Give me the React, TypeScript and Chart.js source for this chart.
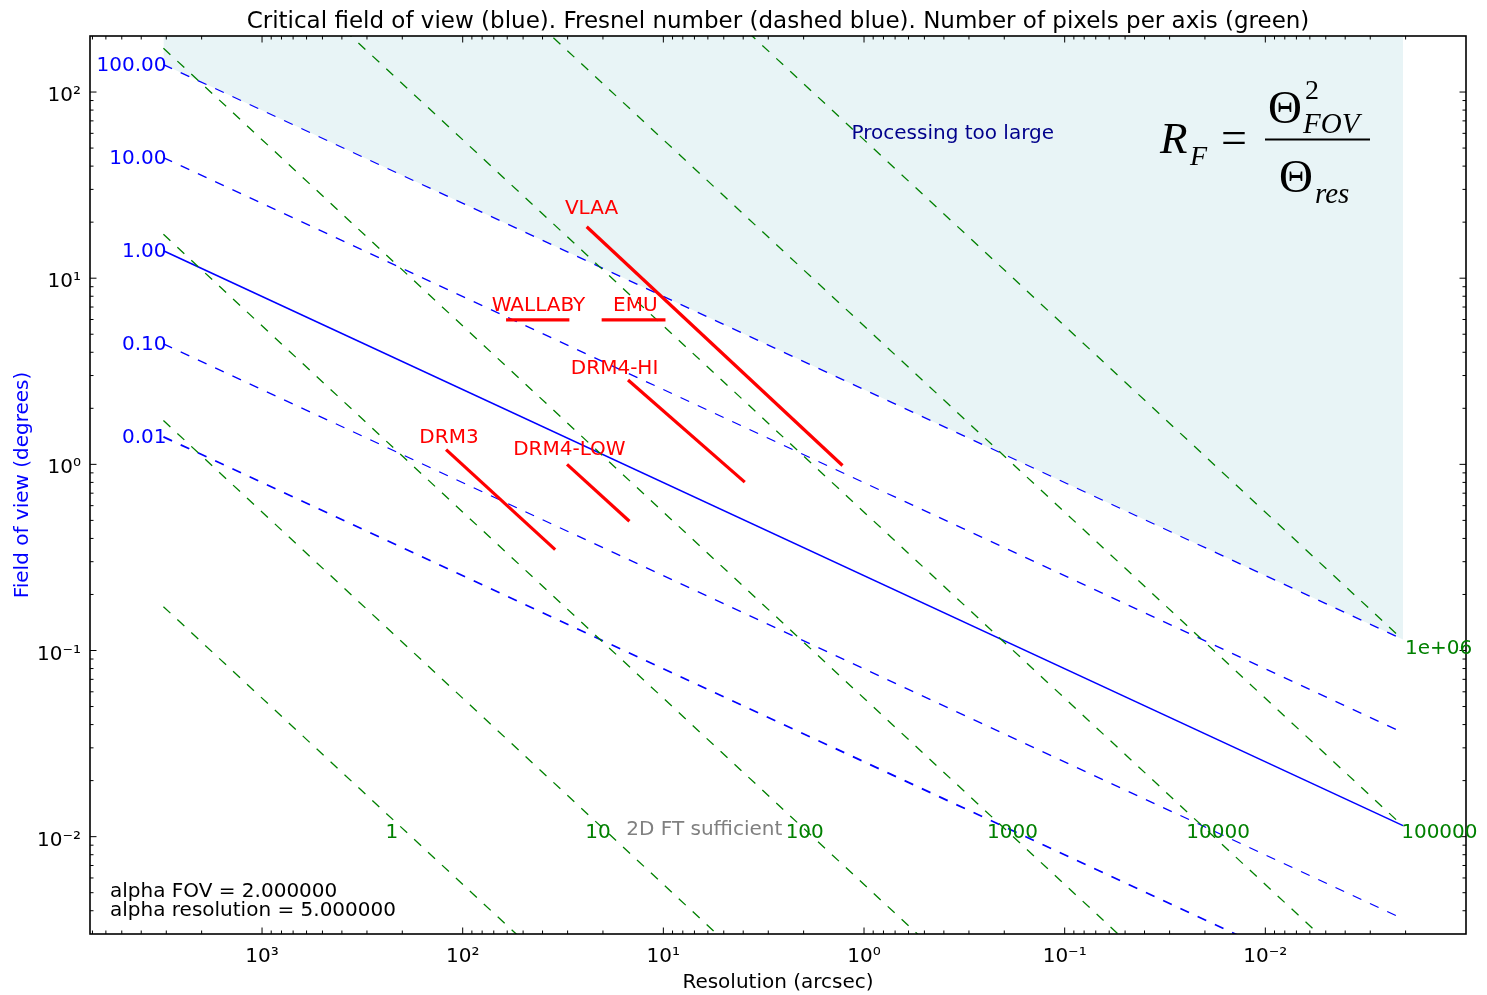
import React, { useEffect, useRef } from 'react';
import { Chart, registerables } from 'chart.js';

Chart.register(...registerables);

const W = 1487;
const H = 995;
const FONT = '"DejaVu Sans", Verdana, sans-serif';
const SERIF = '"Liberation Serif", "DejaVu Serif", "Times New Roman", serif';

// Resolution (arcsec) where all reference curves start and end
const curveResolution = [3100, 0.00206];

// Fresnel number curves (blue): label and field of view (deg) at start / end
const fresnelLabels = ['100.00', '10.00', '1.00', '0.10', '0.01'];
const fresnelFovStart = [140.5, 44.4, 14.05, 4.44, 1.405];
const fresnelFovEnd = [0.1146, 0.0362, 0.01146, 0.00362, 0.001146];

// Pixels per axis curves (green)
const pixelLabels = ['1', '10', '100', '1000', '10000', '100000', '1e+06'];
const pixelFovStart = [0.172, 1.72, 17.2, 172, 1720, 17200, 172000];
const pixelFovEnd = [1.14e-7, 1.14e-6, 1.14e-5, 1.14e-4, 1.14e-3, 0.0114, 0.114];
const pixelLabelRes = [240, 24.2, 2.43, 0.241, 0.0245, 0.00208, 0.00199];
const pixelLabelFov = [0.0105, 0.0105, 0.0105, 0.0105, 0.0105, 0.0105, 0.1025];

// Surveys (red)
const surveyNames = ['VLAA', 'WALLABY', 'EMU', 'DRM4-HI', 'DRM3', 'DRM4-LOW'];
const surveyResStart = [24.1, 60.8, 20.3, 15.0, 121, 30.2];
const surveyResEnd = [1.28, 29.4, 9.76, 3.93, 34.6, 14.76];
const surveyFovStart = [18.9, 5.97, 5.97, 2.84, 1.2, 1.0];
const surveyFovEnd = [0.986, 5.97, 5.97, 0.803, 0.348, 0.495];
const surveyLabelRes = [22.8, 41.9, 13.8, 17.5, 117, 29.4];
const surveyLabelFov = [23.6, 7.13, 7.13, 3.27, 1.39, 1.19];

// Axes
const xMin = 0.001;
const xMax = 7200;
const yMin = 0.003;
const yMax = 200;
const xTickValues = [1000, 100, 10, 1, 0.1, 0.01];
const xTickLabels = ['10³', '10²', '10¹', '10⁰', '10⁻¹', '10⁻²'];
const yTickValues = [100, 10, 1, 0.1, 0.01];
const yTickLabels = ['10²', '10¹', '10⁰', '10⁻¹', '10⁻²'];

const BLUE = '#0000ff';
const GREEN = '#008000';
const RED = '#ff0000';
const FILL = 'rgb(232,244,246)';

const decor = {
  id: 'decor',
  beforeDraw(chart: any) {
    const ctx = chart.ctx;
    ctx.save();
    ctx.fillStyle = '#ffffff';
    ctx.fillRect(0, 0, chart.width, chart.height);
    ctx.restore();
  },
  afterDatasetsDraw(chart: any) {
    const ctx = chart.ctx;
    const a = chart.chartArea;
    const xs = chart.scales.x;
    const ys = chart.scales.y;
    const px = (v: number) => xs.getPixelForValue(v);
    const py = (v: number) => ys.getPixelForValue(v);
    const seg = (x1: number, y1: number, x2: number, y2: number) => {
      ctx.beginPath();
      ctx.moveTo(x1, y1);
      ctx.lineTo(x2, y2);
      ctx.stroke();
    };
    ctx.save();

    // frame
    ctx.strokeStyle = '#000000';
    ctx.lineWidth = 1.6;
    ctx.strokeRect(a.left, a.top, a.right - a.left, a.bottom - a.top);

    // inward ticks
    ctx.lineWidth = 1;
    for (let e = -3; e <= 4; e++) {
      for (let m = 1; m <= 9; m++) {
        const v = m * Math.pow(10, e);
        if (v > xMin * 1.001 && v < xMax) {
          const p = px(v);
          const len = m === 1 ? 6.5 : 3.5;
          seg(p, a.bottom, p, a.bottom - len);
          seg(p, a.top, p, a.top + len);
        }
        if (v > yMin * 1.001 && v < yMax * 0.999) {
          const p = py(v);
          const len = m === 1 ? 6.5 : 3.5;
          seg(a.left, p, a.left + len, p);
          seg(a.right, p, a.right - len, p);
        }
      }
    }

    // tick labels
    ctx.fillStyle = '#000000';
    ctx.font = `20px ${FONT}`;
    ctx.textAlign = 'center';
    ctx.textBaseline = 'alphabetic';
    xTickValues.forEach((v, i) => ctx.fillText(xTickLabels[i], px(v), a.bottom + 28));
    ctx.textAlign = 'right';
    yTickValues.forEach((v, i) => ctx.fillText(yTickLabels[i], a.left - 9, py(v) + 9));

    // axis labels
    ctx.textAlign = 'center';
    ctx.fillText('Resolution (arcsec)', (a.left + a.right) / 2, 988);
    ctx.save();
    ctx.translate(28, (a.top + a.bottom) / 2);
    ctx.rotate(-Math.PI / 2);
    ctx.fillStyle = BLUE;
    ctx.fillText('Field of view (degrees)', 0, 0);
    ctx.restore();

    // title
    ctx.font = `23px ${FONT}`;
    ctx.fillText(
      'Critical field of view (blue). Fresnel number (dashed blue). Number of pixels per axis (green)',
      (a.left + a.right) / 2,
      28
    );
    ctx.font = `20px ${FONT}`;

    // Fresnel labels
    ctx.textBaseline = 'middle';
    ctx.textAlign = 'right';
    ctx.fillStyle = BLUE;
    fresnelLabels.forEach((t, i) => ctx.fillText(t, px(curveResolution[0]) + 3, py(fresnelFovStart[i]) + 1));

    // pixel count labels
    ctx.textAlign = 'left';
    ctx.fillStyle = GREEN;
    pixelLabels.forEach((t, i) => ctx.fillText(t, px(pixelLabelRes[i]) - 1, py(pixelLabelFov[i])));

    // survey labels
    ctx.textAlign = 'center';
    ctx.fillStyle = RED;
    surveyNames.forEach((t, i) => ctx.fillText(t, px(surveyLabelRes[i]), py(surveyLabelFov[i])));

    // region annotations
    ctx.textAlign = 'left';
    ctx.fillStyle = '#00008b';
    ctx.fillText('Processing too large', px(1.154), py(59.7));
    ctx.fillStyle = '#808080';
    ctx.fillText('2D FT sufficient', px(15.3), py(0.01086));
    ctx.fillStyle = '#000000';
    ctx.textBaseline = 'alphabetic';
    ctx.fillText('alpha FOV = 2.000000', a.left + 20, 897);
    ctx.fillText('alpha resolution = 5.000000', a.left + 20, 916);

    // formula R_F = Theta_FOV^2 / Theta_res
    ctx.fillStyle = '#000000';
    ctx.textAlign = 'left';
    ctx.font = `italic 45px ${SERIF}`;
    ctx.fillText('R', 1160, 153);
    ctx.font = `italic 28px ${SERIF}`;
    ctx.fillText('F', 1190, 165);
    ctx.font = `46px ${SERIF}`;
    ctx.fillText('=', 1221, 153);
    ctx.font = `47px ${SERIF}`;
    ctx.fillText('Θ', 1268, 123);
    ctx.fillText('Θ', 1279, 192);
    ctx.font = `28px ${SERIF}`;
    ctx.fillText('2', 1305, 99);
    ctx.font = `italic 29px ${SERIF}`;
    ctx.fillText('FOV', 1303, 133);
    ctx.fillText('res', 1315, 203);
    ctx.lineWidth = 2;
    seg(1265, 139.5, 1370, 139.5);

    ctx.restore();
  },
};

export default function App() {
  const ref = useRef<HTMLCanvasElement | null>(null);

  useEffect(() => {
    const canvas = ref.current;
    if (!canvas) return;
    const datasets: any[] = [];

    surveyNames.forEach((name, i) => {
      datasets.push({
        label: name,
        data: [
          { x: surveyResStart[i], y: surveyFovStart[i] },
          { x: surveyResEnd[i], y: surveyFovEnd[i] },
        ],
        borderColor: RED,
        borderWidth: 3.2,
        borderCapStyle: 'butt',
        pointRadius: 0,
        fill: false,
      });
    });

    pixelLabels.forEach((name, i) => {
      datasets.push({
        label: 'N=' + name,
        data: [
          { x: curveResolution[0], y: pixelFovStart[i] },
          { x: curveResolution[1], y: pixelFovEnd[i] },
        ],
        borderColor: GREEN,
        borderWidth: 1.3,
        borderDash: [9.5, 9.5],
        pointRadius: 0,
        fill: false,
      });
    });

    fresnelLabels.forEach((name, i) => {
      const solid = name === '1.00';
      datasets.push({
        label: 'RF=' + name,
        data: [
          { x: curveResolution[0], y: fresnelFovStart[i] },
          { x: curveResolution[1], y: fresnelFovEnd[i] },
        ],
        borderColor: BLUE,
        borderWidth: solid ? 1.6 : name === '0.01' ? 1.7 : 1.3,
        borderDash: solid ? [] : [9.5, 9.5],
        pointRadius: 0,
        fill: i === 0 ? 'end' : false,
        backgroundColor: FILL,
      });
    });

    const chart = new Chart(canvas, {
      type: 'line',
      data: { datasets },
      options: {
        responsive: false,
        animation: false,
        devicePixelRatio: 1,
        layout: { padding: { top: 36, right: 21, left: 0, bottom: 0 } },
        plugins: {
          legend: { display: false },
          tooltip: { enabled: false },
          title: { display: false },
          filler: { drawTime: 'beforeDatasetsDraw' },
        },
        elements: { point: { radius: 0 }, line: { tension: 0 } },
        scales: {
          x: {
            type: 'logarithmic',
            reverse: true,
            min: xMin,
            max: xMax,
            ticks: { display: false },
            grid: { display: false },
            border: { display: false },
            afterFit: (s: any) => {
              s.height = 61;
            },
          },
          y: {
            type: 'logarithmic',
            min: yMin,
            max: yMax,
            ticks: { display: false },
            grid: { display: false },
            border: { display: false },
            afterFit: (s: any) => {
              s.width = 90;
            },
          },
        },
      } as any,
      plugins: [decor],
    });
    return () => chart.destroy();
  }, []);

  return (
    <canvas
      ref={ref}
      width={W}
      height={H}
      style={{ position: 'fixed', left: 0, top: 0, display: 'block' }}
    />
  );
}
